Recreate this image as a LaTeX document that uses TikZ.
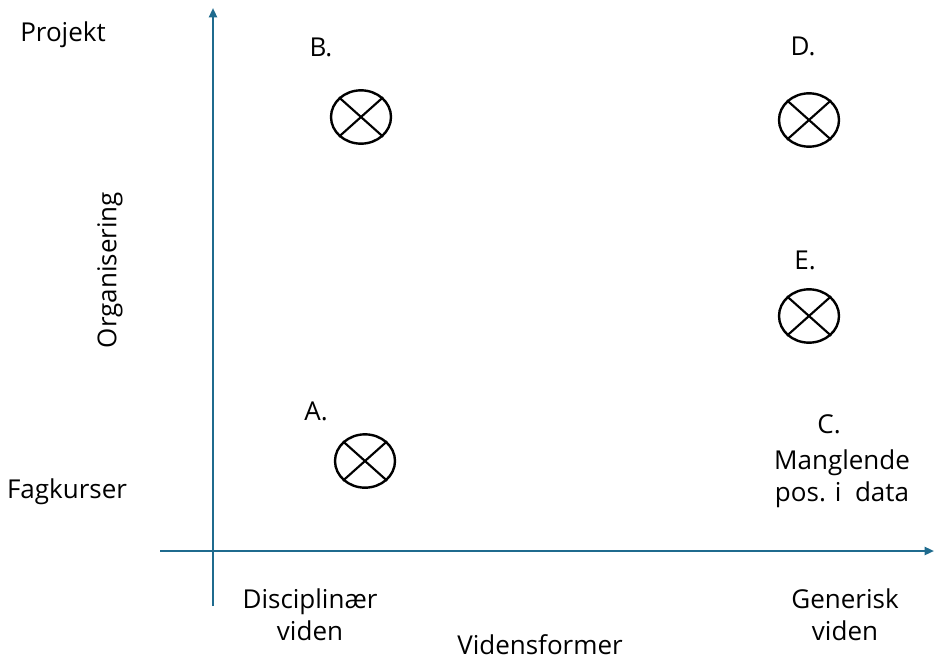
\documentclass[tikz,border=0pt]{standalone}
\usepackage{fontspec}
\setmainfont{Open Sans}
\usetikzlibrary{arrows.meta,shapes.geometric}
\definecolor{axis}{HTML}{1F6B8E}
\tikzset{
  axisline/.style={draw=axis, line width=1.6pt, -{Triangle[length=7pt,width=6pt]}},
  lbl/.style={font=\fontsize{19.5}{24}\selectfont, align=center, inner sep=0pt},
  xmark/.style={draw=black, line width=1.8pt, ellipse, minimum width=45pt, minimum height=40pt, inner sep=0pt},
}
\begin{document}
\begin{tikzpicture}[x=0.75pt, y=-0.75pt]
\useasboundingbox (0,0) rectangle (934,660);
% axes
\coordinate (vbot) at (213,606);
\coordinate (vtop) at (213,8);
\coordinate (hleft) at (160,551);
\coordinate (hright) at (934,551);
\draw[axisline] (vbot) -- (vtop);
\draw[axisline] (hleft) -- (hright);
% markers
\foreach \n/\x/\y in {mB/361/117, mD/809/120, mE/809/316, mA/365/461}{
  \node[xmark] (\n) at (\x,\y) {};
  \draw[line width=1.6pt] (\n.north west) -- (\n.south east);
  \draw[line width=1.6pt] (\n.north east) -- (\n.south west);
}
% labels
\node[lbl] (lB) at (321,47) {B.};
\node[lbl] (lD) at (803,46) {D.};
\node[lbl] (lE) at (805,260) {E.};
\node[lbl] (lA) at (316,411) {A.};
\node[lbl] (lC) at (829,424) {C.};
\node[lbl] (lC2) at (842,479) {Manglende\\pos. i\ \ data};
\node[lbl] (proj) at (63,35) {Projekt};
\node[lbl] (fag) at (67,492) {Fagkurser};
\node[lbl, rotate=90] (org) at (110,270) {Organisering};
\node[lbl] (disc) at (310,615) {Disciplinær\\viden};
\node[lbl] (vf) at (540,645) {Vidensformer};
\node[lbl] (gen) at (845,615) {Generisk\\viden};
\end{tikzpicture}
\end{document}
